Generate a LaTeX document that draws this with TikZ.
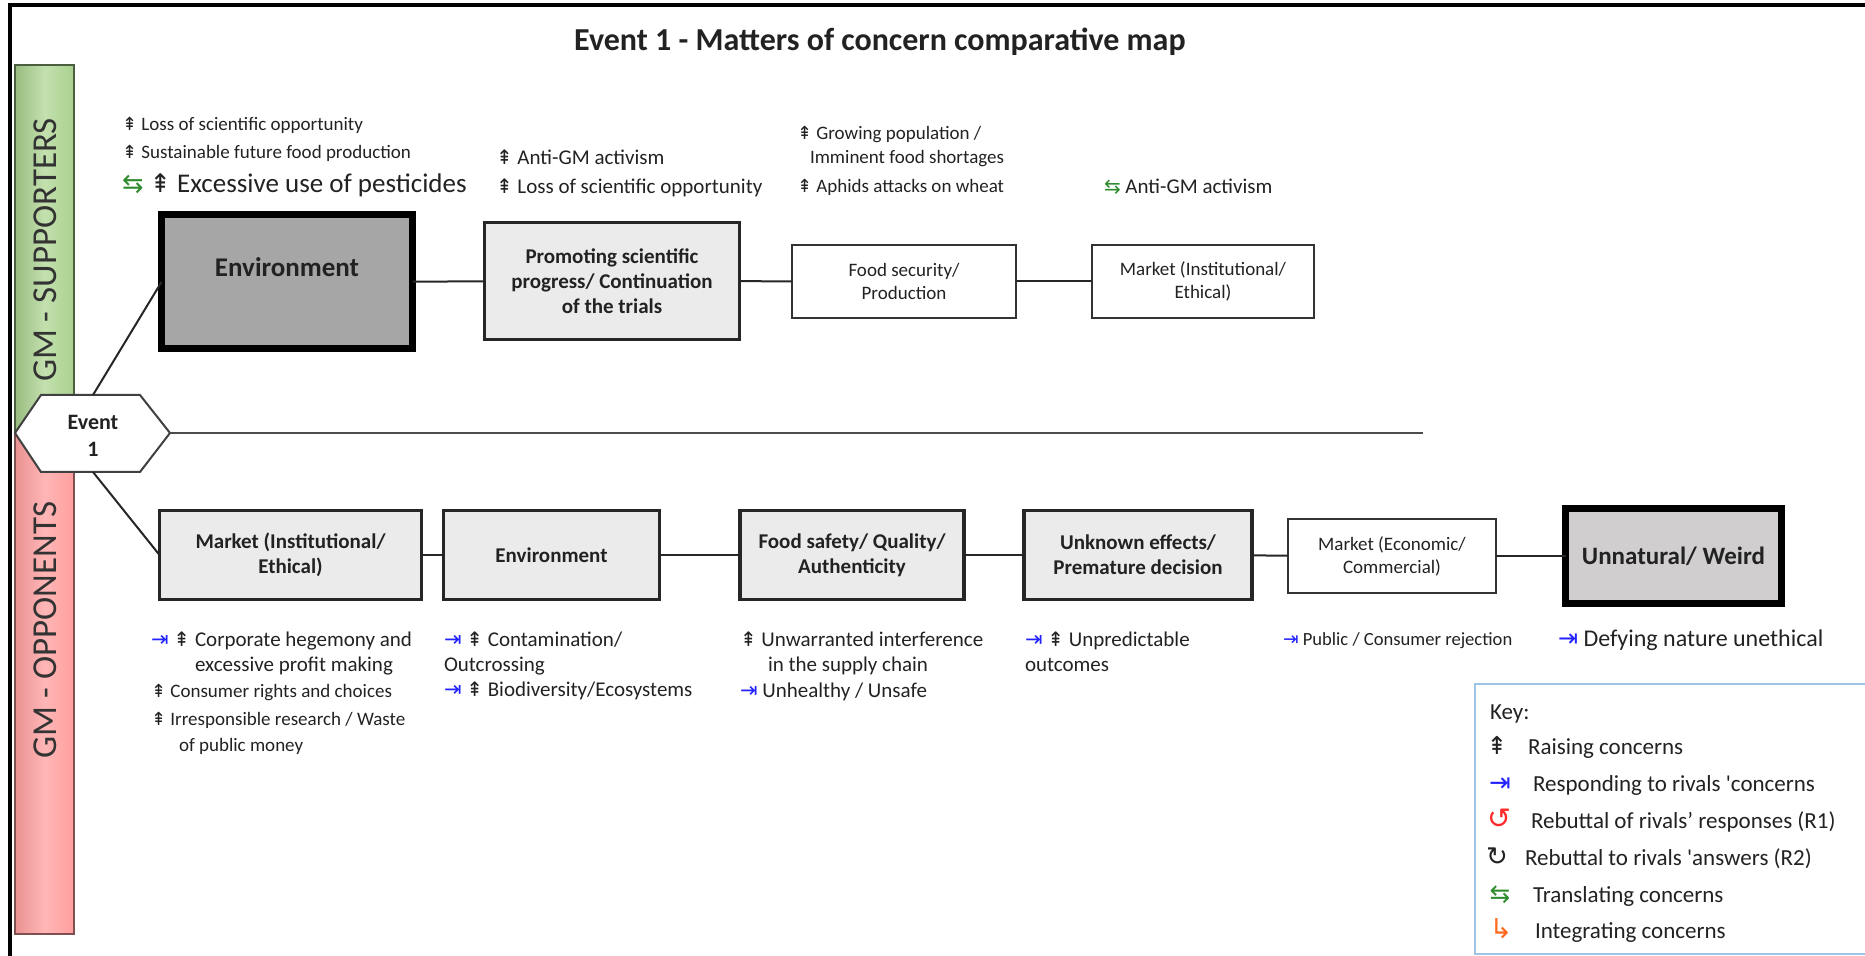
\documentclass[tikz,border=0pt]{standalone}
\usepackage{fontspec}
\setmainfont{Carlito}
\newfontfamily\symf{DejaVu Sans}
\definecolor{boxlight}{HTML}{EBEBEB}
\definecolor{boxdark}{HTML}{A6A6A6}
\definecolor{boxmid}{HTML}{D0CECE}
\definecolor{supgreen}{HTML}{A9D18E}
\definecolor{supgreenhi}{HTML}{C3E0AE}
\definecolor{oppred}{HTML}{FF9E9E}
\definecolor{oppredhi}{HTML}{FFB6B6}
\definecolor{respblue}{HTML}{2323FF}
\definecolor{transgreen}{HTML}{2E8B2E}
\definecolor{rebred}{HTML}{FF2A2A}
\definecolor{integorange}{HTML}{FF6A1F}
\definecolor{keyblue}{HTML}{9DC3E6}
\definecolor{txt}{HTML}{222222}
% concern markers, sized from the surrounding text
\newcommand\RaiseSym{{\symf\fontsize{0.95em}{1em}\selectfont ⇞}}
\newcommand\RespSym{{\symf\fontsize{1em}{1em}\selectfont\color{respblue}⇥}}
\newcommand\TransSym{{\symf\fontsize{0.95em}{1em}\selectfont\color{transgreen}⇆}}
\newcommand\RebOneSym{{\symf\fontsize{1.1em}{1em}\selectfont\color{rebred}↺}}
\newcommand\RebTwoSym{{\symf\fontsize{1em}{1em}\selectfont ↻}}
\newcommand\IntegSym{{\symf\fontsize{1.05em}{1em}\selectfont\color{integorange}↳}}
\newcommand\fs[1]{\fontsize{#1pt}{1.2\dimexpr#1pt\relax}\selectfont}
\newcommand\sq{\textquotesingle}
\begin{document}
\begin{tikzpicture}[x=0.5pt,y=-0.5pt,
  every node/.style={inner sep=0pt,outer sep=0pt,text=txt},
  boxthick/.style={draw=black,line width=3.5pt,fill=#1},
  boxmed/.style={draw=black!85,line width=1.6pt,fill=boxlight,align=center,font=\fs{10.5}\bfseries},
  boxthin/.style={draw=black!80,line width=0.9pt,fill=white,align=center,font=\fs{9.5}},
  link/.style={draw=black!85,line width=1pt},
  lbl/.style={anchor=base west},
  keyitem/.style={anchor=base west,font=\fs{11.5}},
  keysym/.style={anchor=base,font=\fs{13}}
]
\useasboundingbox (0,0) rectangle (1865,956);
% frame
\draw[line width=1.6pt] (1875,5) -- (10,5) -- (10,966);
% title
\node[font=\fs{16}\bfseries] (title) at (880,42) {Event 1 - Matters of concern comparative map};
% side bars
\draw[draw=black!55!supgreen,line width=0.9pt,left color=supgreen!90!black,right color=supgreen,middle color=supgreenhi] (15,65) rectangle (74,434);
\draw[draw=black!50!oppred,line width=0.9pt,left color=oppred!92!black,right color=oppred,middle color=oppredhi] (15,434) rectangle (74,934);
\node[rotate=90,font=\fs{17.5},text=black!80] (sup) at (45,250) {GM - SUPPORTERS};
\node[rotate=90,font=\fs{17.5},text=black!80] (opp) at (45,630) {GM - OPPONENTS};
% event hexagon
\draw[draw=black!75,line width=1pt,fill=white] (15,433) -- (41,395) -- (140,395) -- (170,433) -- (140,472) -- (41,472) -- cycle;
\coordinate (evE) at (170,433);
\coordinate (evN) at (93,395);
\coordinate (evS) at (93,472);
\coordinate (axisend) at (1423,433);
\node[font=\fs{11}\bfseries,align=center] (ev) at (93,436) {Event\\1};
\draw[link,draw=black!70] (evE) -- (axisend);

% supporters row
\node[boxthick=boxdark,minimum width=125.5pt,minimum height=67pt] (envS) at (287,282) {};
\node[font=\fs{13.5}\bfseries] (envSt) at (287,267) {Environment};
\node[boxmed,minimum width=127.5pt,minimum height=58.5pt] (promS) at (612,281) {Promoting scientific\\progress/ Continuation\\of the trials};
\node[boxthin,minimum width=112pt,minimum height=36.5pt] (foodS) at (904,281.5) {Food security/\\Production};
\node[boxthin,minimum width=111pt,minimum height=36.5pt] (markS) at (1203,281.5) {Market (Institutional/\\Ethical)};
\draw[link] (envS) -- (promS);
\draw[link] (promS) -- (foodS);
\draw[link] (foodS) -- (markS);
\draw[link] (evN) -- (envS.west);

% opponents row
\node[boxmed,minimum width=131pt,minimum height=44.5pt] (markO) at (290.5,555) {Market (Institutional/\\Ethical)};
\node[boxmed,minimum width=108pt,minimum height=44.5pt] (envO) at (551.5,555) {Environment};
\node[boxmed,minimum width=112pt,minimum height=44.5pt] (foodO) at (852,555) {Food safety/ Quality/\\Authenticity};
\node[boxmed,minimum width=114pt,minimum height=44.5pt] (unkO) at (1138,555) {Unknown effects/\\Premature decision};
\node[boxthin,minimum width=104pt,minimum height=37pt] (econO) at (1392,556) {Market (Economic/\\Commercial)};
\node[boxthick=boxmid,minimum width=108pt,minimum height=47.5pt,font=\fs{12.5}\bfseries] (unnO) at (1673.5,556) {Unnatural/ Weird};
\draw[link] (markO) -- (envO);
\draw[link] (envO) -- (foodO);
\draw[link] (foodO) -- (unkO);
\draw[link] (unkO) -- (econO);
\draw[link] (econO) -- (unnO);
\draw[link] (evS) -- (markO.west);

% supporters' concerns
\node[lbl,font=\fs{9.5}] (c1) at (122,131) {\RaiseSym\ Loss of scientific opportunity};
\node[lbl,font=\fs{9.5}] (c2) at (122,159) {\RaiseSym\ Sustainable future food production};
\node[lbl,font=\fs{13.5}] (c3) at (122,193) {\TransSym\ \RaiseSym\ Excessive use of pesticides};
\node[lbl,font=\fs{10.5}] (c4) at (496,165) {\RaiseSym\ Anti-GM activism};
\node[lbl,font=\fs{10.5}] (c5) at (496,194) {\RaiseSym\ Loss of scientific opportunity};
\node[lbl,font=\fs{9.5}] (c6) at (797,140) {\RaiseSym\ Growing population /};
\node[lbl,font=\fs{9.5}] (c6b) at (810,164) {Imminent food shortages};
\node[lbl,font=\fs{9.5}] (c7) at (797,193) {\RaiseSym\ Aphids attacks on wheat};
\node[lbl,font=\fs{10.5}] (c8) at (1104,194) {\TransSym\ Anti-GM activism};

% opponents' concerns
\node[lbl,font=\fs{10.5}] (o1s) at (151,647) {\RespSym\ \RaiseSym};
\node[lbl,font=\fs{10.5}] (o1) at (195,647) {Corporate hegemony and};
\node[lbl,font=\fs{10.5}] (o1b) at (195,672) {excessive profit making};
\node[lbl,font=\fs{9.5}] (o2) at (151,698) {\RaiseSym\ Consumer rights and choices};
\node[lbl,font=\fs{9.5}] (o3) at (151,726) {\RaiseSym\ Irresponsible research / Waste};
\node[lbl,font=\fs{9.5}] (o3b) at (179,752) {of public money};
\node[lbl,font=\fs{10.5}] (o4) at (444,647) {\RespSym\ \RaiseSym\ Contamination/};
\node[lbl,font=\fs{10.5}] (o4b) at (444,672) {Outcrossing};
\node[lbl,font=\fs{10.5}] (o5) at (444,697) {\RespSym\ \RaiseSym\ Biodiversity/Ecosystems};
\node[lbl,font=\fs{10.5}] (o6) at (740,647) {\RaiseSym\ Unwarranted interference};
\node[lbl,font=\fs{10.5}] (o6b) at (768,672) {in the supply chain};
\node[lbl,font=\fs{10.5}] (o7) at (740,698) {\RespSym\ Unhealthy / Unsafe};
\node[lbl,font=\fs{10.5}] (o8) at (1025,647) {\RespSym\ \RaiseSym\ Unpredictable};
\node[lbl,font=\fs{10.5}] (o8b) at (1025,672) {outcomes};
\node[lbl,font=\fs{9.3}] (o9) at (1283,646) {\RespSym\ Public / Consumer rejection};
\node[lbl,font=\fs{12}] (o10) at (1558,647) {\RespSym\ Defying nature unethical};

% key
\node[draw=keyblue,line width=1pt,fill=white,minimum width=200pt,minimum height=135pt,anchor=north west] (key) at (1475,684) {};
\node[keyitem] (keyt) at (1490,720) {Key:};
\node[keysym] (k1s) at (1497,755) {\RaiseSym};
\node[keyitem] (k1) at (1528,755) {Raising concerns};
\node[keysym] (k2s) at (1500,792) {\RespSym};
\node[keyitem] (k2) at (1533,792) {Responding to rivals \sq concerns};
\node[keysym] (k3s) at (1499,829) {\RebOneSym};
\node[keyitem] (k3) at (1531,829) {Rebuttal of rivals’ responses (R1)};
\node[keysym] (k4s) at (1497,866) {\RebTwoSym};
\node[keyitem] (k4) at (1525,866) {Rebuttal to rivals \sq answers (R2)};
\node[keysym] (k5s) at (1500,902) {\TransSym};
\node[keyitem] (k5) at (1533,902) {Translating concerns};
\node[keysym] (k6s) at (1501,938) {\IntegSym};
\node[keyitem] (k6) at (1535,938) {Integrating concerns};
\end{tikzpicture}
\end{document}
